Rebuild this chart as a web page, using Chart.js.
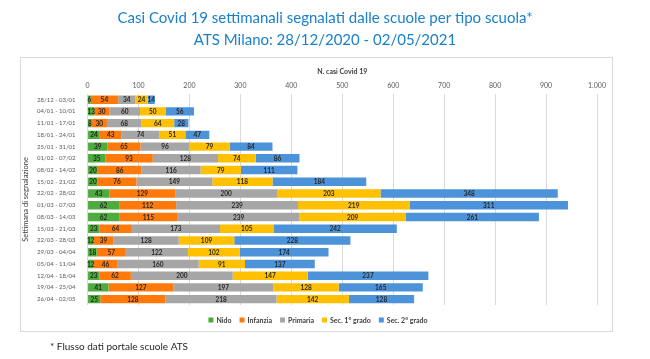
<!DOCTYPE html>
<html lang="it">
<head>
  <meta charset="UTF-8">
  <title>Casi Covid 19 settimanali per tipo scuola</title>
  <script src="https://cdn.jsdelivr.net/npm/chart.js"></script>
  <style>
    html, body {
      margin: 0;
      padding: 0;
      background: #ffffff;
    }
    .wrap {
      width: 650px;
      height: 359px;
    }
  </style>
</head>
<body>

<div class="wrap">
  <canvas id="chart" width="650" height="359"></canvas>
</div>

<script>
  // settimane di segnalazione
  const weeks = [
    '28/12 - 03/01', '04/01 - 10/01', '11/01 - 17/01', '18/01 - 24/01',
    '25/01 - 31/01', '01/02 - 07/02', '08/02 - 14/02', '15/02 - 21/02',
    '22/02 - 28/02', '01/03 - 07/03', '08/03 - 14/03', '15/03 - 21/03',
    '22/03 - 28/03', '29/03 - 04/04', '05/04 - 11/04', '12/04 - 18/04',
    '19/04 - 25/04', '26/04 - 02/05'
  ];

  const nido     = [6, 13, 8, 24, 39, 35, 20, 20, 43, 62, 62, 23, 12, 18, 12, 23, 41, 25];
  const infanzia = [54, 30, 30, 43, 65, 93, 86, 76, 129, 112, 115, 64, 39, 57, 46, 62, 127, 128];
  const primaria = [34, 60, 68, 74, 96, 128, 116, 149, 200, 239, 239, 173, 128, 122, 160, 200, 197, 218];
  const sec1     = [24, 50, 64, 51, 79, 74, 79, 118, 203, 219, 209, 105, 109, 102, 91, 147, 128, 142];
  const sec2     = [14, 56, 28, 47, 84, 86, 111, 184, 348, 311, 261, 242, 228, 174, 137, 237, 165, 128];

  const xTicks = [0, 100, 200, 300, 400, 500, 600, 700, 800, 900, 1000];

  const FONT = "Lato, 'Open Sans', sans-serif";

  function fmt(v) {
    return String(v).replace(/\B(?=(\d{3})+(?!\d))/g, '.');
  }

  // titolo, riquadro, legenda e nota
  const framePlugin = {
    id: 'frame',
    beforeDraw(chart) {
      const c = chart.ctx;
      c.save();
      c.fillStyle = '#ffffff';
      c.fillRect(0, 0, chart.width, chart.height);
      c.strokeStyle = '#d9d9d9';
      c.lineWidth = 1;
      c.strokeRect(20.5, 57.5, 592, 274);

      c.fillStyle = '#1a80cc';
      c.font = '15px ' + FONT;
      c.textAlign = 'center';
      c.textBaseline = 'middle';
      c.fillText('Casi Covid 19 settimanali segnalati dalle scuole per tipo scuola*', 325, 18);
      c.fillText('ATS Milano: 28/12/2020 - 02/05/2021', 325, 40);
      c.restore();
    },
    afterDraw(chart) {
      const c = chart.ctx;
      c.save();
      c.textBaseline = 'middle';
      c.textAlign = 'left';

      // legenda
      c.font = 'bold 7px ' + FONT;
      const items = chart.data.datasets.map(ds => ({
        text: ds.label,
        color: ds.backgroundColor,
        w: 5 + 3 + c.measureText(ds.label).width
      }));
      const gap = 8;
      const total = items.reduce((s, it) => s + it.w, 0) + gap * (items.length - 1);
      let x = 318 - total / 2;
      const y = 320;
      items.forEach(it => {
        c.fillStyle = it.color;
        c.fillRect(x, y - 2.5, 5, 5);
        c.fillStyle = '#404040';
        c.fillText(it.text, x + 8, y + 0.5);
        x += it.w + gap;
      });

      c.fillStyle = '#262626';
      c.font = '10px ' + FONT;
      c.fillText('* Flusso dati portale scuole ATS', 50, 347);
      c.restore();
    }
  };

  // valori dentro le barre
  const labelPlugin = {
    id: 'segLabels',
    afterDatasetsDraw(chart) {
      const c = chart.ctx;
      c.save();
      c.font = 'bold 6.5px ' + FONT;
      c.fillStyle = '#262626';
      c.textAlign = 'center';
      c.textBaseline = 'middle';
      chart.data.datasets.forEach((ds, i) => {
        chart.getDatasetMeta(i).data.forEach((bar, j) => {
          const x = (bar.x + bar.base) / 2;
          c.fillText(ds.data[j], x, bar.y + 0.5);
        });
      });
      c.restore();
    }
  };

  const ctx = document.getElementById('chart').getContext('2d');
  new Chart(ctx, {
    type: 'bar',
    data: {
      labels: weeks,
      datasets: [
        { label: 'Nido', data: nido, backgroundColor: '#4eab3d' },
        { label: 'Infanzia', data: infanzia, backgroundColor: '#ff7a0a' },
        { label: 'Primaria', data: primaria, backgroundColor: '#a6a6a6' },
        { label: 'Sec. 1° grado', data: sec1, backgroundColor: '#ffc000' },
        { label: 'Sec. 2° grado', data: sec2, backgroundColor: '#4d93d9' }
      ]
    },
    options: {
      indexAxis: 'y',
      responsive: false,
      animation: false,
      datasets: {
        bar: {
          barPercentage: 0.72,
          categoryPercentage: 1,
          borderWidth: 0
        }
      },
      layout: {
        padding: { left: 21, right: 53, top: 68, bottom: 54 }
      },
      plugins: {
        title: { display: false },
        legend: { display: false },
        tooltip: { enabled: false }
      },
      scales: {
        x: {
          position: 'top',
          stacked: true,
          min: 0,
          max: 1000,
          afterBuildTicks(axis) {
            axis.ticks = xTicks.map(v => ({ value: v }));
          },
          ticks: {
            color: '#595959',
            font: { family: FONT, size: 7 },
            padding: 4,
            maxRotation: 0,
            callback: v => fmt(v)
          },
          grid: { color: '#d9d9d9', drawTicks: false },
          border: { display: false },
          title: {
            display: true,
            text: 'N. casi Covid 19',
            color: '#404040',
            font: { family: FONT, size: 7, weight: 'bold' },
            padding: { top: 0, bottom: 1 }
          }
        },
        y: {
          stacked: true,
          ticks: {
            color: '#595959',
            font: { family: FONT, size: 6 },
            padding: 4,
            autoSkip: false
          },
          grid: { display: false },
          border: { display: false },
          title: {
            display: true,
            text: 'Settimana di segnalazione',
            color: '#404040',
            font: { family: FONT, size: 7.5 },
            padding: { top: 0, bottom: 3 }
          }
        }
      }
    },
    plugins: [framePlugin, labelPlugin]
  });
</script>

</body>
</html>
